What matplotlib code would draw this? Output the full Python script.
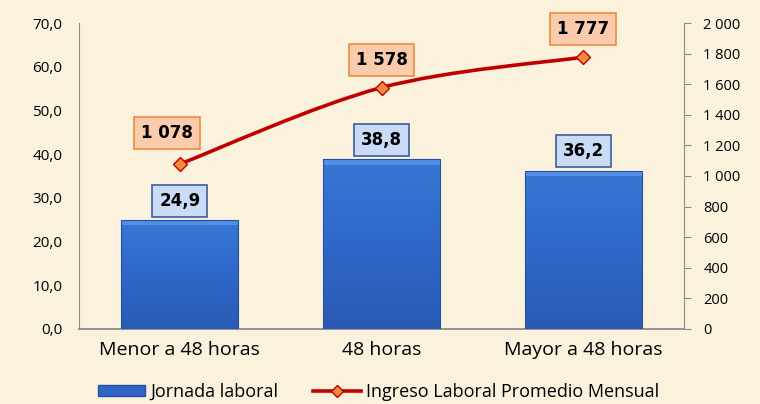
import numpy as np
import matplotlib
matplotlib.use("Agg")
import matplotlib.pyplot as plt
from matplotlib.path import Path
from matplotlib.patches import PathPatch, Rectangle
from matplotlib.lines import Line2D
from matplotlib.colors import LinearSegmentedColormap

categories = ["Menor a 48 horas", "48 horas", "Mayor a 48 horas"]
jornada = [24.9, 38.8, 36.2]
ingreso = [1078, 1578, 1777]
jornada_labels = ["24,9", "38,8", "36,2"]
ingreso_labels = ["1 078", "1 578", "1 777"]
left_ticks = [0, 10, 20, 30, 40, 50, 60, 70]
left_ticklabels = ["0,0", "10,0", "20,0", "30,0", "40,0", "50,0", "60,0", "70,0"]
right_ticks = [0, 200, 400, 600, 800, 1000, 1200, 1400, 1600, 1800, 2000]
right_ticklabels = ["0", "200", "400", "600", "800", "1 000", "1 200", "1 400",
                    "1 600", "1 800", "2 000"]

BG = "#FBF2DE"
TICKFONT = "Open Sans"

fig = plt.figure(figsize=(7.6, 4.04), dpi=100)
fig.patch.set_facecolor(BG)
ax = fig.add_axes([0.104, 0.186, 0.796, 0.757])
ax.set_facecolor("none")
ax2 = ax.twinx()
ax.set_zorder(1)
ax2.set_zorder(2)
ax2.patch.set_visible(False)

x = np.arange(len(categories))
bw = 0.58
bars = ax.bar(x, jornada, width=bw, color="#2F66C8", edgecolor="none", zorder=2)

cmap = LinearSegmentedColormap.from_list("b", ["#2A5AB4", "#2F68CA", "#3877D6"])
grad = np.linspace(0, 1, 256).reshape(-1, 1)
for b in bars:
    x0, y0 = b.get_x(), b.get_y()
    w, h = b.get_width(), b.get_height()
    im = ax.imshow(grad, extent=[x0, x0 + w, y0, y0 + h], origin="lower",
                   cmap=cmap, aspect="auto", zorder=3)
    im.set_clip_path(b)
    ax.add_patch(Rectangle((x0, y0 + h - 1.2), w, 1.2, facecolor="#5A95EA",
                           edgecolor="none", zorder=4, alpha=0.8))
    ax.add_patch(Rectangle((x0, y0), w, h, facecolor="none",
                           edgecolor="#2450A0", lw=0.8, zorder=5))

ax.set_xlim(-0.5, 2.5)
ax.set_ylim(0, 70)
ax2.set_ylim(0, 2000)
ax.set_yticks(left_ticks)
ax.set_yticklabels(left_ticklabels, fontfamily=TICKFONT, fontsize=11)
ax2.set_yticks(right_ticks)
ax2.set_yticklabels(right_ticklabels, fontfamily=TICKFONT, fontsize=10.5)
ax.set_xticks(x)
ax.set_xticklabels(categories, fontfamily=TICKFONT, fontsize=14)
ax.tick_params(axis="x", length=0, pad=9)
ax.tick_params(axis="y", length=0, pad=12)
ax2.tick_params(axis="y", length=5, direction="out", color="#888888", pad=9)

for a in (ax, ax2):
    for s in a.spines.values():
        s.set_visible(False)
ax.spines["left"].set_visible(True)
ax.spines["left"].set_color("#8C8C8C")
ax.spines["bottom"].set_visible(True)
ax.spines["bottom"].set_color("#8C8C8C")
ax.spines["bottom"].set_linewidth(1.3)
ax2.spines["right"].set_visible(True)
ax2.spines["right"].set_color("#8C8C8C")

# smooth (Catmull-Rom -> Bezier) line
P = np.column_stack([x, ingreso]).astype(float)
verts = [tuple(P[0])]
codes = [Path.MOVETO]
n = len(P)
for i in range(n - 1):
    pm = P[i - 1] if i > 0 else P[i]
    p2 = P[i + 2] if i + 2 < n else P[i + 1]
    c1 = P[i] + (P[i + 1] - pm) / 6.0
    c2 = P[i + 1] - (p2 - P[i]) / 6.0
    verts += [tuple(c1), tuple(c2), tuple(P[i + 1])]
    codes += [Path.CURVE4] * 3
ax2.add_patch(PathPatch(Path(verts, codes), facecolor="none", edgecolor="#C00000",
                        lw=2.6, zorder=3, capstyle="round"))
ax2.plot(x, ingreso, linestyle="none", marker="D", markersize=7.5,
         markerfacecolor="#F08A3C", markeredgecolor="#C00000", markeredgewidth=1,
         zorder=4)

# labels
for xi, v, lab in zip(x, jornada, jornada_labels):
    ax.annotate(lab, (xi, v), xytext=(0, 14), textcoords="offset points",
                ha="center", va="center", fontsize=12, fontweight="bold",
                family="DejaVu Sans", zorder=6,
                bbox=dict(boxstyle="square,pad=0.42", fc="#C9DBF7", ec="#3B5E9A", lw=1.2))
offs = [(-9, 22), (0, 20), (0, 20)]
for xi, v, lab, o in zip(x, ingreso, ingreso_labels, offs):
    ax2.annotate(lab, (xi, v), xytext=o, textcoords="offset points",
                 ha="center", va="center", fontsize=12, fontweight="bold",
                 family="DejaVu Sans", zorder=6,
                 bbox=dict(boxstyle="square,pad=0.42", fc="#FBCBAE", ec="#F08A3C", lw=1.2))

handles = [Rectangle((0, 0), 1, 1, facecolor="#2F66C8", edgecolor="#2450A0"),
           Line2D([], [], color="#C00000", lw=2.6, marker="D", markersize=6,
                  markerfacecolor="#F08A3C", markeredgecolor="#C00000")]
fig.legend(handles, ["Jornada laboral", "Ingreso Laboral Promedio Mensual"],
           loc="center", bbox_to_anchor=(0.498, 0.03), ncol=2, frameon=False,
           prop={"family": TICKFONT, "size": 13}, handlelength=2.65,
           handleheight=0.58, columnspacing=1.9, handletextpad=0.3)

fig.savefig("out.png", dpi=100, facecolor=BG)
